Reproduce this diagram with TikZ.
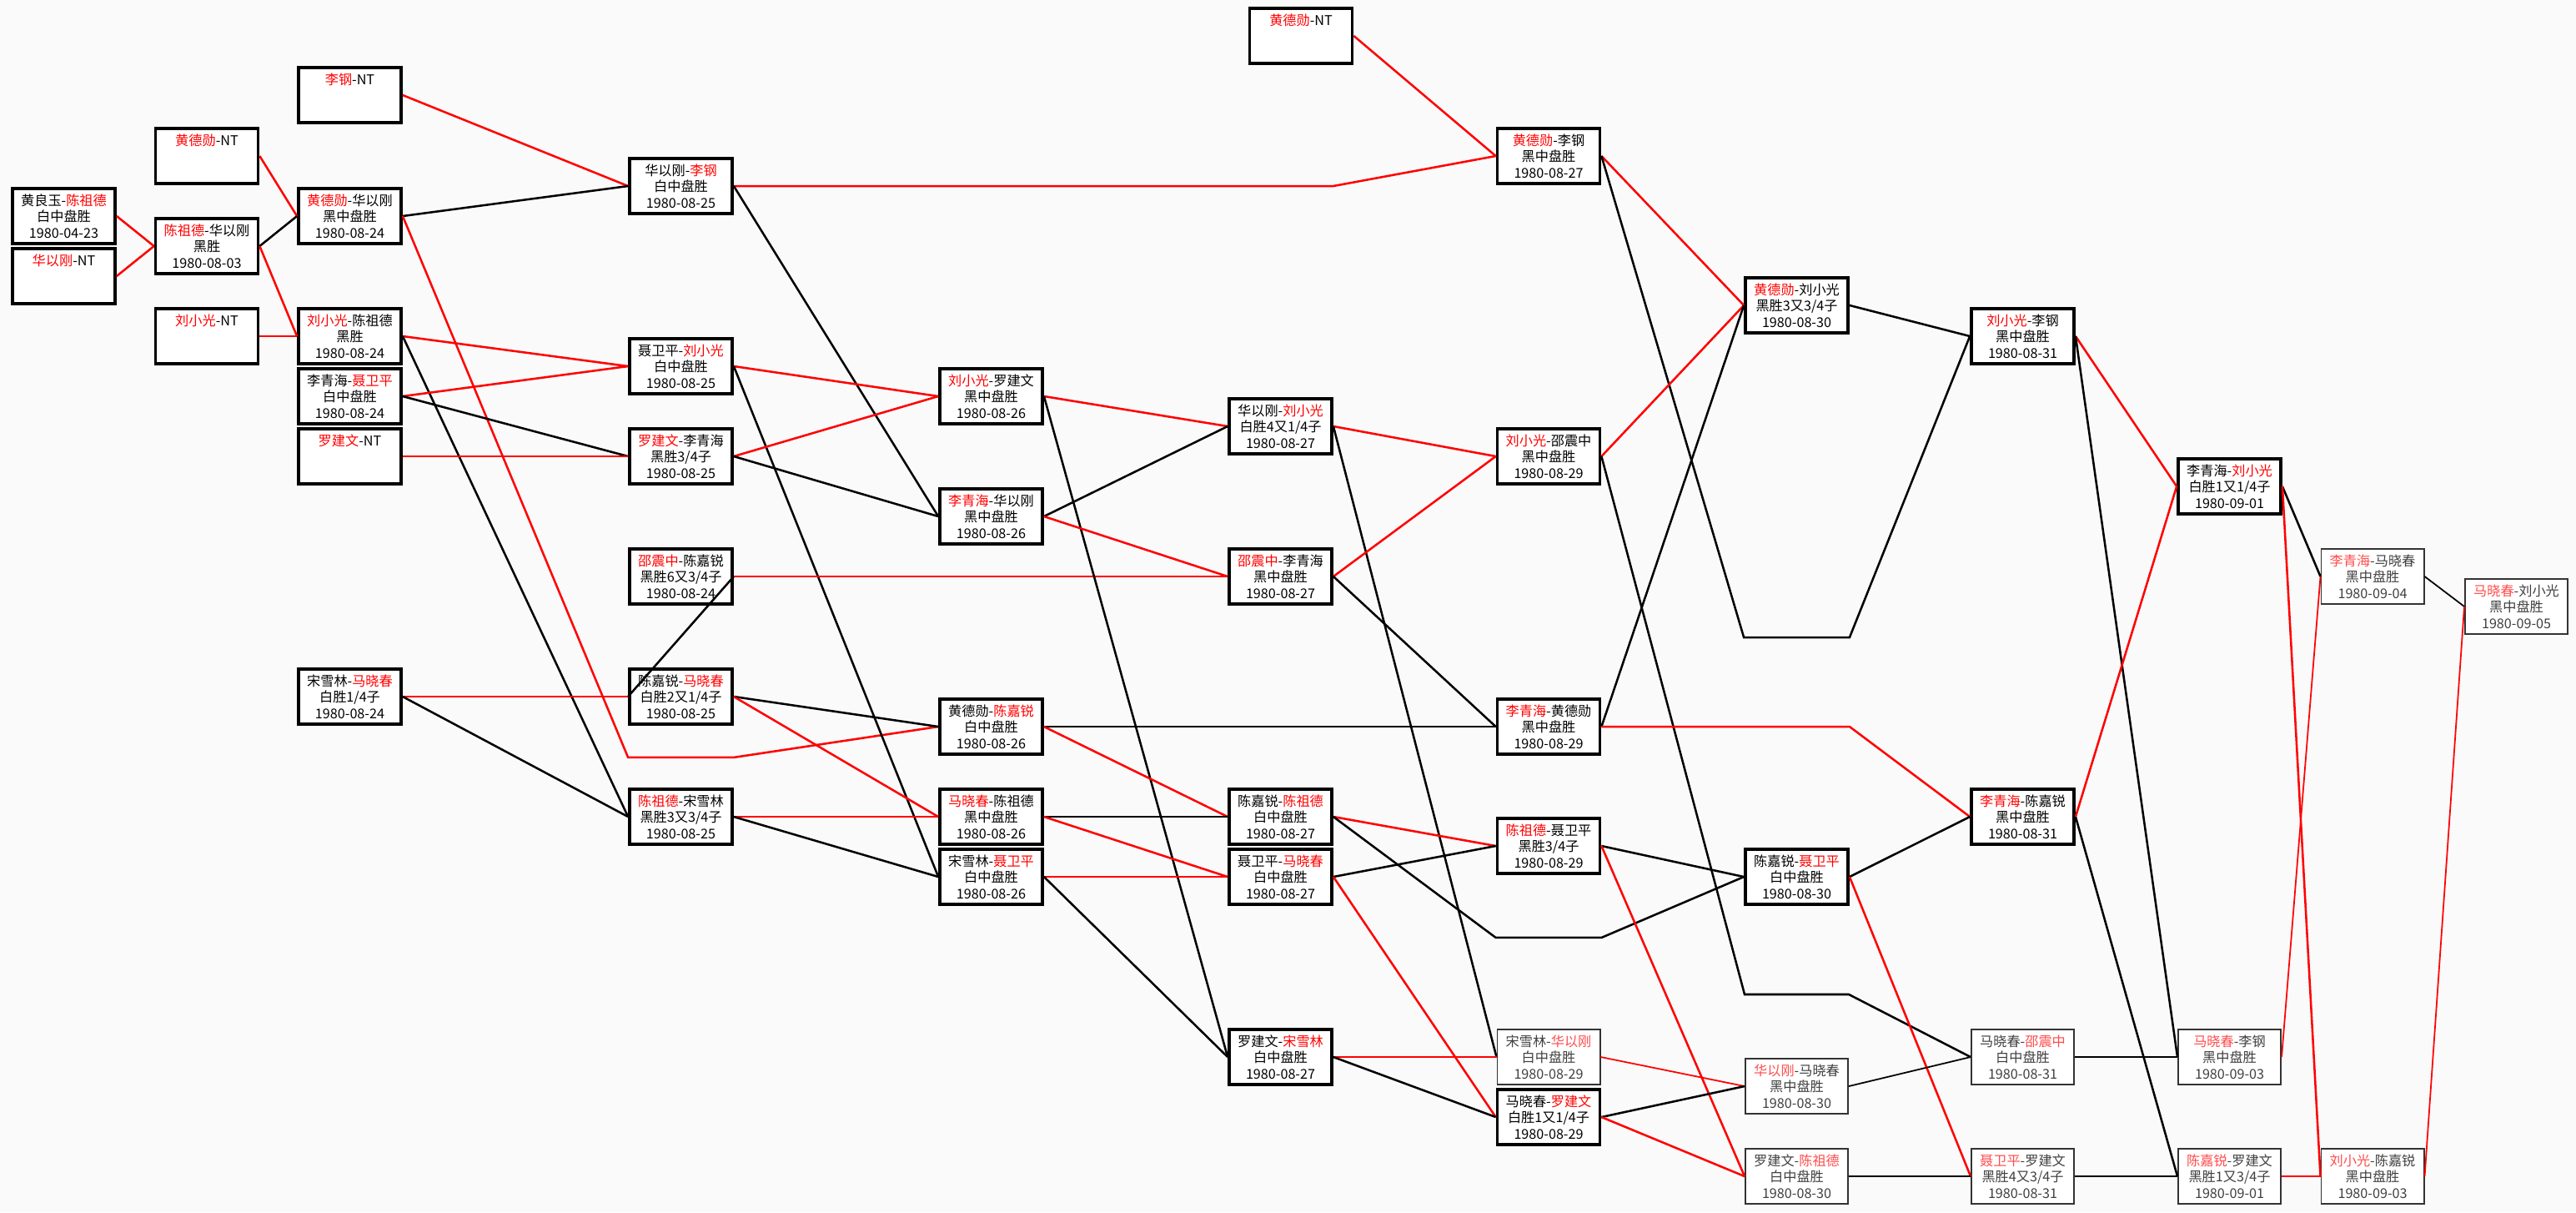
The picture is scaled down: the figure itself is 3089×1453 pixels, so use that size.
\documentclass[tikz,border=0pt]{standalone}
\usepackage{fontspec}
\newfontfamily\cjk{Noto Sans CJK SC}
\usepackage{tikz}
\colorlet{wincol}{red}
\newcommand\winner[1]{\textcolor{wincol}{#1}}
\newcommand\game[3]{#1\\#2\\#3}
\newcommand\bye[1]{#1\\\phantom{0}\\\phantom{0}}

\begin{document}
\begin{tikzpicture}[x=0.01cm, y=-0.01cm,
  game/.style={draw, line width=1.05pt, fill=white, minimum width=1.23cm, minimum height=0.66cm, inner sep=0pt, align=center, font=\cjk\fontsize{4.6}{5.6}\selectfont},
  pale/.style={game, line width=0.55pt, draw=black!80, text=black!75, execute at begin node={\colorlet{wincol}{red!70}}},
  win/.style={red, line width=0.72pt}, lose/.style={black, line width=0.72pt}, faint/.style={line width=0.5pt}]

    \fill[black!2] (0,0) rectangle (3089,1453);
    \useasboundingbox (0,0) rectangle (3089,1453);

    %Round 1
    \node at (76.5, 259) [game] (c0a) {\game{黄良玉-\winner{陈祖德}}{白中盘胜}{1980-04-23}};
    \node at (76.5, 331) [game] (c0b) {\bye{\winner{华以刚}-NT}};
    \node at (248, 187) [game] (hdx1) {\bye{\winner{黄德勋}-NT}};
    \node at (248, 295) [game] (czd1) {\game{\winner{陈祖德}-华以刚}{黑胜}{1980-08-03}};
    \node at (248, 403) [game] (lxg1) {\bye{\winner{刘小光}-NT}};

    %Round 2
    \node at (419.5, 114) [game] (lg2) {\bye{\winner{李钢}-NT}};
    \node at (419.5, 259) [game] (hh2) {\game{\winner{黄德勋}-华以刚}{黑中盘胜}{1980-08-24}};
    \node at (419.5, 403) [game] (lc2) {\game{\winner{刘小光}-陈祖德}{黑胜}{1980-08-24}};
    \node at (419.5, 475) [game] (ln2) {\game{李青海-\winner{聂卫平}}{白中盘胜}{1980-08-24}};
    \node at (419.5, 547) [game] (lj2) {\bye{\winner{罗建文}-NT}};
    \node at (419.5, 835) [game] (sm2) {\game{宋雪林-\winner{马晓春}}{白胜1/4子}{1980-08-24}};

    %Round 3
    \node at (816.5, 223) [game] (hl3) {\game{华以刚-\winner{李钢}}{白中盘胜}{1980-08-25}};
    \node at (816.5, 439) [game] (nl3) {\game{聂卫平-\winner{刘小光}}{白中盘胜}{1980-08-25}};
    \node at (816.5, 547) [game] (ll3) {\game{\winner{罗建文}-李青海}{黑胜3/4子}{1980-08-25}};
    \node at (816.5, 691) [game] (sc3) {\game{\winner{邵震中}-陈嘉锐}{黑胜6又3/4子}{1980-08-24}};
    \node at (816.5, 835) [game] (cm3) {\game{陈嘉锐-\winner{马晓春}}{白胜2又1/4子}{1980-08-25}};
    \node at (816.5, 979) [game] (cs3) {\game{\winner{陈祖德}-宋雪林}{黑胜3又3/4子}{1980-08-25}};

    %Round 4
    \node at (1188.5, 475) [game] (lr4) {\game{\winner{刘小光}-罗建文}{黑中盘胜}{1980-08-26}};
    \node at (1188.5, 619) [game] (lh4) {\game{\winner{李青海}-华以刚}{黑中盘胜}{1980-08-26}};
    \node at (1188.5, 871) [game] (hc4) {\game{黄德勋-\winner{陈嘉锐}}{白中盘胜}{1980-08-26}};
    \node at (1188.5, 979) [game] (mc4) {\game{\winner{马晓春}-陈祖德}{黑中盘胜}{1980-08-26}};
    \node at (1188.5, 1051) [game] (sn4) {\game{宋雪林-\winner{聂卫平}}{白中盘胜}{1980-08-26}};

    %Round 5
    \node at (1560, 43) [game] (hd5) {\bye{\winner{黄德勋}-NT}};
    \node at (1535.5, 511) [game] (hl5) {\game{华以刚-\winner{刘小光}}{白胜4又1/4子}{1980-08-27}};
    \node at (1535.5, 691) [game] (sl5) {\game{\winner{邵震中}-李青海}{黑中盘胜}{1980-08-27}};
    \node at (1535.5, 979) [game] (cc5) {\game{陈嘉锐-\winner{陈祖德}}{白中盘胜}{1980-08-27}};
    \node at (1535.5, 1051) [game] (nm5) {\game{聂卫平-\winner{马晓春}}{白中盘胜}{1980-08-27}};
    \node at (1535.5, 1267) [game] (ls5) {\game{罗建文-\winner{宋雪林}}{白中盘胜}{1980-08-27}};

    %Round 6
    \node at (1857, 187) [game] (hl6) {\game{\winner{黄德勋}-李钢}{黑中盘胜}{1980-08-27}};
    \node at (1857, 547) [game] (ls6) {\game{\winner{刘小光}-邵震中}{黑中盘胜}{1980-08-29}};
    \node at (1857, 871) [game] (lh6) {\game{\winner{李青海}-黄德勋}{黑中盘胜}{1980-08-29}};
    \node at (1857, 1014) [game] (cn6) {\game{\winner{陈祖德}-聂卫平}{黑胜3/4子}{1980-08-29}};
    \node at (1857, 1267) [pale] (sh6) {\game{宋雪林-\winner{华以刚}}{白中盘胜}{1980-08-29}};
    \node at (1857, 1339) [game] (ml6) {\game{马晓春-\winner{罗建文}}{白胜1又1/4子}{1980-08-29}};

    %Round 7
    \node at (2154.5, 366) [game] (hl7) {\game{\winner{黄德勋}-刘小光}{黑胜3又3/4子}{1980-08-30}};
    \node at (2154.5, 1051) [game] (cn7) {\game{陈嘉锐-\winner{聂卫平}}{白中盘胜}{1980-08-30}};
    \node at (2154.5, 1302) [pale] (hm7) {\game{\winner{华以刚}-马晓春}{黑中盘胜}{1980-08-30}};
    \node at (2154.5, 1410) [pale] (lc7) {\game{罗建文-\winner{陈祖德}}{白中盘胜}{1980-08-30}};

    %Round 8
    \node at (2425.5, 403) [game] (ll8) {\game{\winner{刘小光}-李钢}{黑中盘胜}{1980-08-31}};
    \node at (2425.5, 979) [game] (lc8) {\game{\winner{李青海}-陈嘉锐}{黑中盘胜}{1980-08-31}};
    \node at (2425.5, 1267) [pale] (ms8) {\game{马晓春-\winner{邵震中}}{白中盘胜}{1980-08-31}};
    \node at (2425.5, 1410) [pale] (nl8) {\game{\winner{聂卫平}-罗建文}{黑胜4又3/4子}{1980-08-31}};

    %Final rounds
    \node at (2673.5, 583) [game] (ll9) {\game{李青海-\winner{刘小光}}{白胜1又1/4子}{1980-09-01}};
    \node at (2673.5, 1267) [pale] (ml9) {\game{\winner{马晓春}-李钢}{黑中盘胜}{1980-09-03}};
    \node at (2673.5, 1410) [pale] (cl9) {\game{\winner{陈嘉锐}-罗建文}{黑胜1又3/4子}{1980-09-01}};
    \node at (2845, 691) [pale] (lm10) {\game{\winner{李青海}-马晓春}{黑中盘胜}{1980-09-04}};
    \node at (2845, 1410) [pale] (lc10) {\game{\winner{刘小光}-陈嘉锐}{黑中盘胜}{1980-09-03}};
    \node at (3017.5, 727) [pale] (ml11) {\game{\winner{马晓春}-刘小光}{黑中盘胜}{1980-09-05}};

    %Links round 1
    \draw[win] (c0a.east) -- (czd1.west);
    \draw[win] (c0b.east) -- (czd1.west);
    \draw[win] (hdx1.east) -- (hh2.west);
    \draw[lose] (czd1.east) -- (hh2.west);
    \draw[win] (czd1.east) -- (lc2.west);
    \draw[win] (lxg1.east) -- (lc2.west);

    %Links round 2
    \draw[win] (lg2.east) -- (hl3.west);
    \draw[lose] (hh2.east) -- (hl3.west);
    \draw[win] (hh2.east) -- ([yshift=-0.38cm]cm3.south west) -- ([yshift=-0.38cm]cm3.south east) -- (hc4.west);
    \draw[win] (lc2.east) -- (nl3.west);
    \draw[lose] (lc2.east) -- (cs3.west);
    \draw[win] (ln2.east) -- (nl3.west);
    \draw[lose] (ln2.east) -- (ll3.west);
    \draw[win] (lj2.east) -- (ll3.west);
    \draw[win] (sm2.east) -- (cm3.west);
    \draw[lose] (sm2.east) -- (cs3.west);

    %Links round 3
    \draw[win] (hl3.east) -- (hl3.east -| hl5.east) -- (hl6.west);
    \draw[lose] (hl3.east) -- (lh4.west);
    \draw[win] (nl3.east) -- (lr4.west);
    \draw[lose] (nl3.east) -- (sn4.west);
    \draw[win] (ll3.east) -- (lr4.west);
    \draw[lose] (ll3.east) -- (lh4.west);
    \draw[win] (sc3.east) -- (sl5.west);
    \draw[lose] (sc3.east) -- (cm3.west);
    \draw[lose] (cm3.east) -- (hc4.west);
    \draw[win] (cm3.east) -- (mc4.west);
    \draw[win] (cs3.east) -- (mc4.west);
    \draw[lose] (cs3.east) -- (sn4.west);

    %Links round 4
    \draw[win] (lr4.east) -- (hl5.west);
    \draw[lose] (lr4.east) -- (ls5.west);
    \draw[lose] (lh4.east) -- (hl5.west);
    \draw[win] (lh4.east) -- (sl5.west);
    \draw[lose] (hc4.east) -- (lh6.west);
    \draw[win] (hc4.east) -- (cc5.west);
    \draw[lose] (mc4.east) -- (cc5.west);
    \draw[win] (mc4.east) -- (nm5.west);
    \draw[win] (sn4.east) -- (nm5.west);
    \draw[lose] (sn4.east) -- (ls5.west);

    %Links round 5
    \draw[win] (hd5.east) -- (hl6.west);
    \draw[win] (hl5.east) -- (ls6.west);
    \draw[lose] (hl5.east) -- (sh6.west);
    \draw[win] (sl5.east) -- (ls6.west);
    \draw[lose] (sl5.east) -- (lh6.west);
    \draw[win] (cc5.east) -- (cn6.west);
    \draw[lose] (cc5.east) -- ([yshift=-0.75cm]cn6.south west) -- ([yshift=-0.75cm]cn6.south east) -- (cn7.west);
    \draw[lose] (nm5.east) -- (cn6.west);
    \draw[win] (nm5.east) -- (ml6.west);
    \draw[win] (ls5.east) -- (sh6.west);
    \draw[lose] (ls5.east) -- (ml6.west);

    %Links round 6
    \draw[win] (hl6.east) -- (hl7.west);
    \draw[lose] (hl6.east) -- ([yshift=-3.63cm]hl7.south west) -- ([yshift=-3.63cm]hl7.south east) -- (ll8.west);
    \draw[win] (ls6.east) -- (hl7.west);
    \draw[lose] (ls6.east) -- ([yshift=0.76cm]hm7.north west) -- ([yshift=0.76cm]hm7.north east) -- (ms8.west);
    \draw[lose] (lh6.east) -- (hl7.west);
    \draw[win] (lh6.east) -- (lh6.east -| cn7.east) -- (lc8.west);
    \draw[lose] (cn6.east) -- (cn7.west);
    \draw[win] (cn6.east) -- (lc7.west);
    \draw[win, faint] (sh6.east) -- (hm7.west);
    \draw[lose] (ml6.east) -- (hm7.west);
    \draw[win] (ml6.east) -- (lc7.west);

    %Links round 7
    \draw[lose] (hl7.east) -- (ll8.west);
    \draw[lose] (cn7.east) -- (lc8.west);
    \draw[win] (cn7.east) -- (nl8.west);
    \draw[lose, faint] (hm7.east) -- (ms8.west);
    \draw[lose, faint] (lc7.east) -- (nl8.west);

    %Links round 8
    \draw[win] (ll8.east) -- (ll9.west);
    \draw[lose] (ll8.east) -- (ml9.west);
    \draw[win] (lc8.east) -- (ll9.west);
    \draw[lose] (lc8.east) -- (cl9.west);
    \draw[lose, faint] (ms8.east) -- (ml9.west);
    \draw[lose, faint] (nl8.east) -- (cl9.west);

    %Links final rounds
    \draw[lose] (ll9.east) -- (lm10.west);
    \draw[win] (ll9.east) -- (lc10.west);
    \draw[win, faint] (ml9.east) -- (lm10.west);
    \draw[win, faint] (cl9.east) -- (lc10.west);
    \draw[lose, faint] (lm10.east) -- (ml11.west);
    \draw[win, faint] (lc10.east) -- (ml11.west);
\end{tikzpicture}
\end{document}
